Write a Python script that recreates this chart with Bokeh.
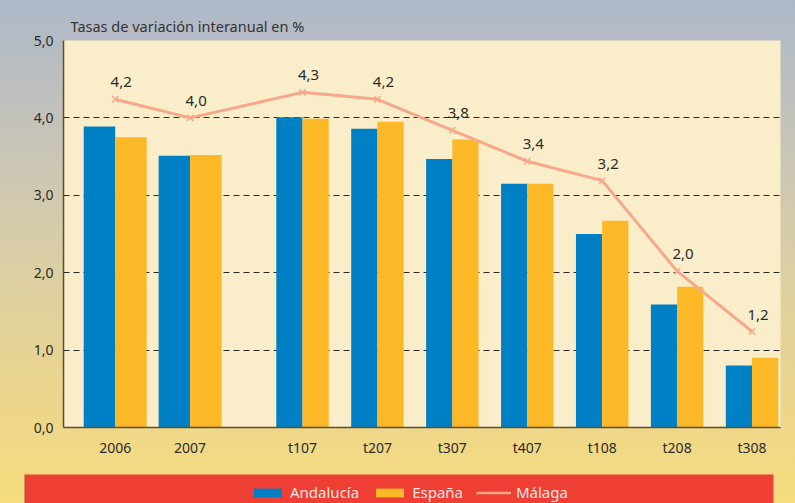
from bokeh.plotting import figure
from bokeh.layouts import column
from bokeh.models import (ColumnDataSource, Range1d, FixedTicker, Legend, LegendItem,
                          GlobalInlineStyleSheet)
from bokeh.core.properties import value
from bokeh.embed import file_html
from bokeh.resources import INLINE

# ---------------- data ----------------
periods_annual = ["2006", "2007"]
periods_quarter = ["t107", "t207", "t307", "t407", "t108", "t208", "t308"]
categories = periods_annual + periods_quarter
andalucia = [3.89, 3.51, 4.01, 3.86, 3.47, 3.15, 2.50, 1.59, 0.80]
espana = [3.75, 3.52, 3.99, 3.95, 3.72, 3.15, 2.67, 1.82, 0.90]
malaga = [4.24, 4.00, 4.33, 4.24, 3.84, 3.44, 3.19, 2.02, 1.24]
y_ticks = [0, 1, 2, 3, 4, 5]
y_tick_labels = ["0,0", "1,0", "2,0", "3,0", "4,0", "5,0"]
title_text = "Tasas de variación interanual en %"
series_names = ["Andalucía", "España", "Málaga"]

# ---------------- styles / layout ----------------
FONT = "Noto Sans"
C_AND = "#0080C4"
C_ESP = "#FDB827"
C_MAL = "#F8A88A"
GAP = 0.5
n_annual = len(periods_annual)
slot = [i + (GAP if i >= n_annual else 0.0) for i in range(len(categories))]
bar_w = [0.42 if i < n_annual else 0.35 for i in range(len(categories))]
malaga_labels = [f"{v:.1f}".replace(".", ",") for v in malaga]

src = ColumnDataSource(dict(
    cat=categories, slot=slot, w=bar_w,
    x_and=[s - w / 2 for s, w in zip(slot, bar_w)],
    x_esp=[s + w / 2 for s, w in zip(slot, bar_w)],
    andalucia=andalucia, espana=espana, malaga=malaga, mlab=malaga_labels,
))

p = figure(width=795, height=474, output_backend="svg", toolbar_location=None,
           x_range=Range1d(-0.69, 8.88), y_range=Range1d(0, 5),
           min_border_left=63, min_border_right=15, min_border_top=40, min_border_bottom=47,
           title=title_text)
p.frame_align = False

bg = GlobalInlineStyleSheet(css="html{background:linear-gradient(180deg,#AEB8CA 0%,#C9C5B6 30%,#DCCFA2 55%,#ECD68C 80%,#F6DC7E 100%);}")
p.stylesheets = [bg]
p.border_fill_color = None
p.background_fill_color = "#FAEDC9"
p.outline_line_color = None

# title
p.title.text_font = FONT
p.title.text_font_size = "14.5px"
p.title.text_font_style = "normal"
p.title.text_color = "#333333"
p.title.align = "left"
p.title.offset = 7
p.title.standoff = 10

# grids
p.xgrid.grid_line_color = None
p.ygrid.ticker = FixedTicker(ticks=y_ticks)
p.ygrid.grid_line_color = "#2a2a2a"
p.ygrid.grid_line_dash = "6 4"
p.ygrid.grid_line_width = 1

# axes
for ax in (p.xaxis[0], p.yaxis[0]):
    ax.axis_line_color = "#5C4D33"
    ax.axis_line_width = 1.5
    ax.major_tick_line_color = None
    ax.minor_tick_line_color = None
    ax.major_tick_out = 0
    ax.major_tick_in = 0
    ax.major_label_text_font = FONT
    ax.major_label_text_font_size = "14px"
    ax.major_label_text_color = "#2b2b2b"
    ax.major_label_standoff = 10

p.yaxis.ticker = FixedTicker(ticks=y_ticks)
p.yaxis.major_label_overrides = {t: l for t, l in zip(y_ticks, y_tick_labels)}
p.xaxis.ticker = FixedTicker(ticks=slot)
p.xaxis.major_label_overrides = {s: c for s, c in zip(slot, categories)}

# bars
p.vbar(x="x_and", top="andalucia", width="w", bottom=0, source=src,
       fill_color=C_AND, line_color=None)
p.vbar(x="x_esp", top="espana", width="w", bottom=0, source=src,
       fill_color=C_ESP, line_color=None)

# Málaga line
p.line(x="slot", y="malaga", source=src, line_color=C_MAL, line_width=3)
p.scatter(x="slot", y="malaga", source=src, marker="x", size=9,
          line_color=C_MAL, line_width=1.5)
p.text(x="slot", y="malaga", text="mlab", source=src,
       text_font=value(FONT), text_font_size="15px", text_color="#2b2b2b",
       text_align="center", text_baseline="middle", x_offset=6, y_offset=-17)

# ---------------- legend band ----------------
leg = figure(width=795, height=29, output_backend="svg", toolbar_location=None,
             x_range=Range1d(0, 1), y_range=Range1d(0, 1),
             x_axis_type=None, y_axis_type=None,
             min_border_left=24, min_border_right=22, min_border_top=0, min_border_bottom=0)
leg.frame_align = False
leg.border_fill_color = None
leg.background_fill_color = "#EF3E34"
leg.outline_line_color = None
leg.grid.visible = False

# swatch-only renderers, kept outside the visible range (legend keys only)
l_and = leg.vbar(x=[-5], top=[1], width=1, fill_color=C_AND, line_color=None)
l_esp = leg.vbar(x=[-5], top=[1], width=1, fill_color=C_ESP, line_color=None)
l_mal = leg.line(x=[-6, -5], y=[0, 0], line_color=C_MAL, line_width=2.5)

legend = Legend(items=[LegendItem(label=series_names[0], renderers=[l_and]),
                       LegendItem(label=series_names[1], renderers=[l_esp]),
                       LegendItem(label=series_names[2], renderers=[l_mal])],
                orientation="horizontal", location=(226, 1),
                glyph_width=35, glyph_height=11, label_standoff=5, spacing=13,
                padding=0, label_height=16,
                background_fill_alpha=0, border_line_color=None,
                label_text_font=FONT, label_text_font_size="15px",
                label_text_color="#FCE6E2")
leg.add_layout(legend)

page = column(p, leg, spacing=0)
open("out.html", "w").write(file_html(page, INLINE))
